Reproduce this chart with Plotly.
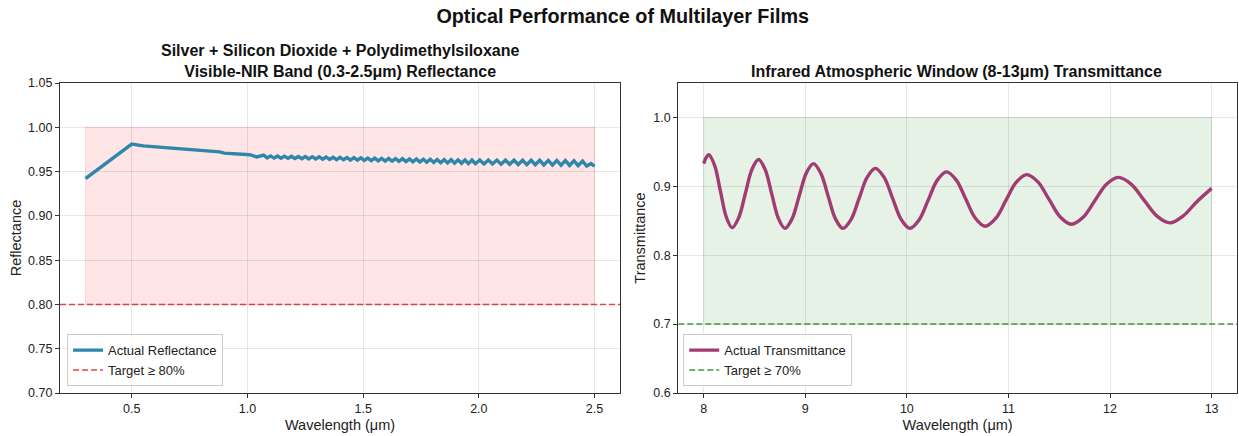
import plotly.graph_objects as go

# ---------------- data ----------------
refl_wavelength = [
    0.30, 0.50, 0.55, 0.60, 0.65, 0.70, 0.74, 0.77, 0.80, 0.82, 0.84, 0.86, 0.88, 0.90,
    0.92, 0.95, 0.98, 1.01, 1.04, 1.07,
    1.085, 1.100, 1.115, 1.130, 1.145, 1.160, 1.175, 1.190, 1.205, 1.220, 1.235, 1.250,
    1.265, 1.280, 1.295, 1.310, 1.325, 1.340, 1.355, 1.370, 1.385, 1.400, 1.415, 1.430,
    1.445, 1.460, 1.475, 1.490, 1.505, 1.520, 1.535, 1.550, 1.565, 1.580, 1.595, 1.610,
    1.625, 1.640, 1.655, 1.670, 1.685, 1.700, 1.715, 1.730, 1.745, 1.760, 1.775, 1.790,
    1.805, 1.820, 1.835, 1.850, 1.865, 1.880, 1.895, 1.910, 1.925, 1.940, 1.955, 1.970,
    1.985,
    2.004, 2.022, 2.041, 2.059, 2.078, 2.096, 2.115, 2.133, 2.152, 2.170, 2.189, 2.207,
    2.226, 2.244, 2.263, 2.281, 2.300, 2.318, 2.337, 2.355, 2.374, 2.392, 2.411, 2.429,
    2.448, 2.466, 2.485, 2.500,
]
reflectance = [
    0.942, 0.981, 0.979, 0.978, 0.977, 0.976, 0.975, 0.9745, 0.9735, 0.9728, 0.9730, 0.9720,
    0.9722, 0.9708, 0.9704, 0.9700, 0.9700, 0.9690, 0.9665, 0.9685,
    0.9654, 0.9677, 0.9652, 0.9675, 0.9650, 0.9674, 0.9649, 0.9672, 0.9647, 0.9670, 0.9645,
    0.9669, 0.9643, 0.9668, 0.9642, 0.9666, 0.9640, 0.9665, 0.9637, 0.9662, 0.9635, 0.9660,
    0.9633, 0.9659, 0.9630, 0.9657, 0.9628, 0.9655, 0.9627, 0.9653, 0.9624, 0.9652, 0.9622,
    0.9650, 0.9619, 0.9648, 0.9617, 0.9647, 0.9615, 0.9645, 0.9612, 0.9643, 0.9610, 0.9642,
    0.9607, 0.9640, 0.9605, 0.9639, 0.9602, 0.9637, 0.9600, 0.9635, 0.9598, 0.9634, 0.9595,
    0.9632, 0.9593, 0.9631, 0.9590, 0.9630, 0.9588,
    0.9630, 0.9586, 0.9630, 0.9585, 0.9630, 0.9583, 0.9629, 0.9582, 0.9629, 0.9580, 0.9628,
    0.9578, 0.9628, 0.9577, 0.9627, 0.9575, 0.9626, 0.9573, 0.9625, 0.9571, 0.9624, 0.9569,
    0.9622, 0.9567, 0.9618, 0.9562, 0.9590, 0.9560,
]

trans_wavelength = [
    8.00, 8.025, 8.05,
    8.1075, 8.165, 8.2225, 8.28,
    8.345, 8.41, 8.475, 8.54,
    8.605, 8.67, 8.735, 8.80,
    8.87, 8.94, 9.01, 9.08,
    9.1525, 9.225, 9.2975, 9.37,
    9.45, 9.53, 9.61, 9.69,
    9.775, 9.86, 9.945, 10.03,
    10.12, 10.21, 10.30, 10.39,
    10.485, 10.58, 10.675, 10.77,
    10.8725, 10.975, 11.0775, 11.18,
    11.29, 11.40, 11.51, 11.62,
    11.735, 11.85, 11.965, 12.08,
    12.2075, 12.335, 12.4625, 12.59,
    12.72, 12.85, 13.00,
]
transmittance = [
    0.933, 0.942, 0.946,
    0.9305, 0.893, 0.8555, 0.840,
    0.8545, 0.8895, 0.9245, 0.939,
    0.9244, 0.889, 0.8536, 0.839,
    0.8528, 0.886, 0.9192, 0.933,
    0.9192, 0.886, 0.8528, 0.839,
    0.8517, 0.8825, 0.9133, 0.926,
    0.9133, 0.8825, 0.8517, 0.839,
    0.851, 0.880, 0.909, 0.921,
    0.9094, 0.8815, 0.8536, 0.842,
    0.853, 0.8795, 0.906, 0.917,
    0.9065, 0.881, 0.8555, 0.845,
    0.855, 0.879, 0.903, 0.913,
    0.9033, 0.880, 0.8567, 0.847,
    0.857, 0.877, 0.897,
]

refl_band = [0.3, 2.5]
refl_shade = [0.8, 1.0]
refl_target = 0.80
refl_xrange = [0.19, 2.61]
refl_yrange = [0.70, 1.05]

trans_band = [8.0, 13.0]
trans_shade = [0.7, 1.0]
trans_target = 0.70
trans_xrange = [7.75, 13.25]
trans_yrange = [0.60, 1.05]

FONT = "Liberation Sans, Arial, sans-serif"
BLUE = "#2E86AB"
MAGENTA = "#A23B72"

fig = go.Figure()

fig.add_trace(go.Scatter(
    x=refl_wavelength, y=reflectance, mode="lines", name="Actual Reflectance",
    line=dict(color=BLUE, width=3.4), xaxis="x", yaxis="y", legend="legend",
))
fig.add_trace(go.Scatter(
    x=refl_xrange, y=[refl_target, refl_target], mode="lines", name="Target ≥ 80%",
    line=dict(color="rgba(220,40,40,0.85)", width=1.5, dash="6px,3px"),
    xaxis="x", yaxis="y", legend="legend",
))
fig.add_trace(go.Scatter(
    x=trans_wavelength, y=transmittance, mode="lines", name="Actual Transmittance",
    line=dict(color=MAGENTA, width=3.4, shape="spline", smoothing=1.0),
    xaxis="x2", yaxis="y2", legend="legend2",
))
fig.add_trace(go.Scatter(
    x=trans_xrange, y=[trans_target, trans_target], mode="lines", name="Target ≥ 70%",
    line=dict(color="rgba(30,140,30,0.85)", width=1.5, dash="6px,3px"),
    xaxis="x2", yaxis="y2", legend="legend2",
))

shapes = [
    dict(type="rect", xref="x", yref="y", x0=refl_band[0], x1=refl_band[1],
         y0=refl_shade[0], y1=refl_shade[1], fillcolor="rgba(255,0,0,0.1)",
         line=dict(color="rgba(255,0,0,0.12)", width=1), layer="below"),
    dict(type="rect", xref="x2", yref="y2", x0=trans_band[0], x1=trans_band[1],
         y0=trans_shade[0], y1=trans_shade[1], fillcolor="rgba(0,128,0,0.1)",
         line=dict(color="rgba(0,128,0,0.12)", width=1), layer="below"),
]

axis_common = dict(
    showline=True, mirror=True, linecolor="#333333", linewidth=1.2,
    ticks="outside", ticklen=4, tickcolor="#333333", tickwidth=1,
    showgrid=True, gridcolor="rgba(0,0,0,0.09)", gridwidth=1,
    zeroline=False, tickfont=dict(family=FONT, size=12.5, color="#222222"),
    title_font=dict(family=FONT, size=14.5, color="#222222"),
)

legend_common = dict(
    xanchor="left", yanchor="bottom",
    bgcolor="rgba(255,255,255,0.85)", bordercolor="#cccccc", borderwidth=1,
    font=dict(family=FONT, size=13, color="#222222"),
    itemwidth=30, tracegroupgap=0,
)

fig.update_layout(
    width=1239, height=436,
    margin=dict(l=60, r=2, t=83, b=43),
    paper_bgcolor="white", plot_bgcolor="white",
    font=dict(family=FONT, color="#222222"),
    title=dict(text="<b>Optical Performance of Multilayer Films</b>",
               x=0.5026, xref="container", xanchor="center", y=0.964, yanchor="middle",
               yref="container",
               font=dict(family=FONT, size=19.8, color="#111111")),
    xaxis=dict(domain=[0, 0.4758], range=refl_xrange, dtick=0.5, tick0=0.5,
               tickformat=".1f", anchor="y",
               title=dict(text="Wavelength (μm)", standoff=4), **axis_common),
    yaxis=dict(domain=[0, 1], range=refl_yrange, dtick=0.05, tick0=0.70,
               tickformat=".2f", anchor="x",
               title=dict(text="Reflectance", standoff=2), **axis_common),
    xaxis2=dict(domain=[0.5253, 1], range=trans_xrange, dtick=1, tick0=8,
                anchor="y2",
                title=dict(text="Wavelength (μm)", standoff=4), **axis_common),
    yaxis2=dict(domain=[0, 1], range=trans_yrange, dtick=0.1, tick0=0.6,
                tickformat=".1f", anchor="x2",
                title=dict(text="Transmittance", standoff=4), **axis_common),
    shapes=shapes,
    legend=dict(x=0.006, y=0.022, **legend_common),
    legend2=dict(x=0.5295, y=0.022, **legend_common),
    annotations=[
        dict(text="<b>Silver + Silicon Dioxide + Polydimethylsiloxane<br>"
                  "Visible-NIR Band (0.3-2.5μm) Reflectance</b>",
             xref="paper", yref="paper", x=0.2379, y=1.0, xanchor="center",
             yanchor="bottom", yshift=1, showarrow=False, align="center",
             font=dict(family=FONT, size=16, color="#111111")),
        dict(text="<b>Infrared Atmospheric Window (8-13μm) Transmittance</b>",
             xref="paper", yref="paper", x=0.762, y=1.0, xanchor="center",
             yanchor="bottom", yshift=1, showarrow=False,
             font=dict(family=FONT, size=16, color="#111111")),
    ],
)

fig.write_html("out.html", config={"displayModeBar": False},
               post_script="document.body.style.margin='0';")
